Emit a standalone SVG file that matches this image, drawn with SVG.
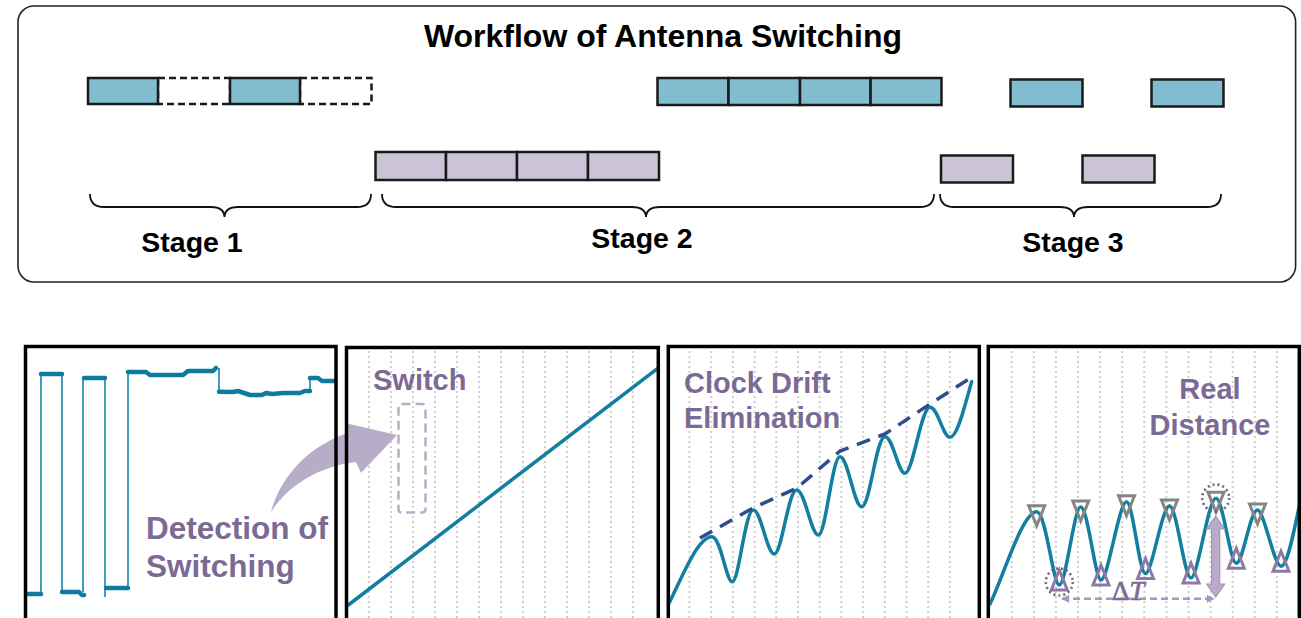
<svg xmlns="http://www.w3.org/2000/svg" width="1301" height="618" viewBox="0 0 1301 618">
<style>
.t{font-family:"Liberation Sans",Arial,sans-serif;font-weight:bold}
.title{font-size:32px;fill:#000}
.stage{font-size:28.5px;fill:#000}
.pl{fill:#7B6A94}
.bx{stroke:#1a1a1a;stroke-width:2.5}
.blue{fill:#82BCCF}
.purp{fill:#CCC4D6}
.dash{fill:#fff;stroke:#1a1a1a;stroke-width:2.5;stroke-dasharray:7,4}
.brace{fill:none;stroke:#111;stroke-width:1.8}
.grid{stroke:#CFCFCF;stroke-width:2;stroke-dasharray:2,3}
.frame{fill:none;stroke:#000;stroke-width:3.5}
.teal{fill:none;stroke:#137FA0;stroke-width:3.5;stroke-linejoin:round;stroke-linecap:round}
.thin{fill:none;stroke:#2E93B4;stroke-width:1.8}
.thick{fill:none;stroke:#0E7B9C;stroke-width:4.5;stroke-linejoin:round;stroke-linecap:round}
.dn{fill:none;stroke:#858585;stroke-width:3;stroke-linejoin:miter}
.up{fill:none;stroke:#8A7AA5;stroke-width:3;stroke-linejoin:miter}
.dotc{fill:none;stroke:#6F6580;stroke-width:2.6;stroke-dasharray:2,3}
</style>
<defs>
<path id="tdn" d="M-8,-6 L8,-6 L0,14 Z"/>
<path id="tup" d="M-8,5 L8,5 L0,-15 Z"/>
<marker id="ah" viewBox="0 0 10 10" refX="9" refY="5" markerWidth="10" markerHeight="8" markerUnits="userSpaceOnUse" orient="auto-start-reverse">
<path d="M0,0 L10,5 L0,10 Z" fill="#A698BC"/>
</marker>
</defs>
<rect width="1301" height="618" fill="#fff"/>

<g id="workflow">
<rect x="18" y="6" width="1277.6" height="276" rx="16" fill="#fff" stroke="#222" stroke-width="1.6"/>
<text class="t title" x="663" y="47" text-anchor="middle">Workflow of Antenna Switching</text>
</g>

<g id="stage1-blocks">
<rect class="dash" x="158" y="78" width="72" height="26"/>
<rect class="dash" x="300" y="78" width="71.5" height="26"/>
<rect class="bx blue" x="88" y="78" width="70" height="26"/>
<rect class="bx blue" x="230" y="78" width="70" height="26"/>
</g>
<g id="stage2-blocks">
<rect class="bx blue" x="657.5" y="78" width="71" height="27"/>
<rect class="bx blue" x="728.5" y="78" width="71.5" height="27"/>
<rect class="bx blue" x="800" y="78" width="70.6" height="27"/>
<rect class="bx blue" x="870.6" y="78" width="70.9" height="27"/>
<rect class="bx purp" x="375.5" y="152" width="70.5" height="28"/>
<rect class="bx purp" x="446" y="152" width="71" height="28"/>
<rect class="bx purp" x="517" y="152" width="71" height="28"/>
<rect class="bx purp" x="588" y="152" width="71" height="28"/>
</g>
<g id="stage3-blocks">
<rect class="bx blue" x="1010.5" y="79.5" width="72" height="27"/>
<rect class="bx blue" x="1151.5" y="79.5" width="72" height="27"/>
<rect class="bx purp" x="941" y="155.5" width="72" height="27"/>
<rect class="bx purp" x="1082.5" y="155.5" width="72" height="27"/>
</g>
<g id="stage-labels">
<path class="brace" d="M90,194 Q90,207 104,207 L211,207 Q224,207 224.5,217 Q225,207 238,207 L357,207 Q371,207 371,194"/>
<path class="brace" d="M382,194 Q382,207 396,207 L632,207 Q645.5,207 646,217 Q646.5,207 660,207 L920,207 Q934,207 934,194"/>
<path class="brace" d="M940,194 Q940,207 954,207 L1060,207 Q1073.5,207 1074,217 Q1074.5,207 1088,207 L1207,207 Q1221,207 1221,194"/>
<text class="t stage" x="192" y="252" text-anchor="middle">Stage 1</text>
<text class="t stage" x="642" y="248" text-anchor="middle">Stage 2</text>
<text class="t stage" x="1073" y="252" text-anchor="middle">Stage 3</text>
</g>

<g id="panel-detection">
<path class="thin" d="M41,594 L41,374 M62,374 L62,592 M83,592 L83,378 M105,378 L105,597 M128,588 L128,372 M219,368 L219,392 M310,391 L310,378"/>
<path class="thick" d="M27,594 L41,594"/>
<path class="thick" d="M41,374 L62,374"/>
<path class="thick" d="M62,592 L79,592 L82,595 L84,595"/>
<path class="thick" d="M84,378 L105,378"/>
<path class="thick" d="M106,588 L128,588"/>
<path class="thick" d="M128,372 L146,372 L150,375 L183,375 L188,371 L213,371 L216,368"/>
<path class="thick" d="M219,391.7 L233,392 L238,391 L244,393 L250,395 L262,395 L266,393 L272,394 L283,393 L300,393 L305,391 L310,391"/>
<path class="thick" d="M310,378 L318,378 L322,381 L335,381"/>
<text class="t pl" x="146" y="539" font-size="31.5">Detection of</text>
<text class="t pl" x="146" y="577" font-size="31.5">Switching</text>
</g>

<g id="panel-switch">
<g class="grid">
<path d="M369,351V618M391,351V618M413,351V618M435,351V618M457,351V618M479,351V618M501,351V618M523,351V618M545,351V618M567,351V618M589,351V618M611,351V618M633,351V618"/>
</g>
<text class="t pl" x="373" y="390" font-size="29">Switch</text>
<rect x="398.5" y="404" width="27" height="108.5" rx="3" fill="none" stroke="#B8ADC9" stroke-width="2.5" stroke-dasharray="9,5"/>
<path class="teal" d="M348.3,605 L657.7,368.3" stroke-width="3"/>
</g>

<g id="panel-drift">
<g class="grid">
<path d="M689.5,351V618M711.2,351V618M732.9,351V618M754.6,351V618M776.3,351V618M798,351V618M819.7,351V618M841.4,351V618M863.1,351V618M884.8,351V618M906.5,351V618M928.2,351V618M949.9,351V618"/>
</g>
<text class="t pl" x="684" y="393" font-size="29">Clock Drift</text>
<text class="t pl" x="684" y="428" font-size="29">Elimination</text>
<path class="teal" d="M669,603.3 C683,575 698,537 711.7,536.7 C721,536.5 726,581.7 732.3,581.7 C739,581.7 745,510 753.3,510 C761,510 767,554 774.3,554 C782,554 788,490 796.7,490 C805,490 811,535 818.3,535 C826,535 832,456.7 840,456.7 C848,456.7 854,506.7 861.7,506.7 C870,506.7 876,436.7 885,436.7 C893,436.7 898,473.3 905,473.3 C913,473.3 921,407.3 930,407.3 C938,407.3 943,437.3 950,437.3 C958,437.3 966,400 971.7,381.7"/>
<polyline points="700,538 753,508 797,488 840,451 885,434 930,404 972,377" fill="none" stroke="#2F4C8C" stroke-width="3.5" stroke-dasharray="14,9"/>
</g>

<g id="panel-distance">
<g class="grid">
<path d="M1011.7,351V618M1033.8,351V618M1055.9,351V618M1078,351V618M1100.1,351V618M1122.2,351V618M1144.3,351V618M1166.4,351V618M1188.5,351V618M1210.6,351V618M1232.7,351V618M1254.8,351V618M1276.9,351V618"/>
</g>
<text class="t pl" x="1210" y="399" font-size="29" text-anchor="middle">Real</text>
<text class="t pl" x="1210" y="435" font-size="29" text-anchor="middle">Distance</text>
<path class="teal" d="M990,604 C1003,578 1022,512 1036.7,511.7 C1046,511.7 1053,585 1059.3,585 C1066,585 1074,507 1080.7,507 C1088,507 1095,580 1101,580 C1108,580 1119,501.7 1126.5,501.7 C1133,501.7 1139,573.5 1145.5,573.5 C1152,573.5 1162,506 1169.5,506 C1177,506 1184,578 1191,578 C1198,578 1208,498.3 1216,498.3 C1223,498.3 1230,563.3 1236.3,563.3 C1243,563.3 1250,510 1257.5,510 C1264,510 1274,566.3 1281,566.3 C1288,566.3 1295,525 1301,498"/>
<g class="dn">
<use href="#tdn" x="1036.7" y="511.7"/>
<use href="#tdn" x="1080.7" y="507"/>
<use href="#tdn" x="1126.5" y="501.7"/>
<use href="#tdn" x="1169.5" y="506"/>
<use href="#tdn" x="1216" y="498.3"/>
<use href="#tdn" x="1257.5" y="510"/>
</g>
<g class="up">
<use href="#tup" x="1059.3" y="585"/>
<use href="#tup" x="1101" y="580"/>
<use href="#tup" x="1145.5" y="573.5"/>
<use href="#tup" x="1191" y="578"/>
<use href="#tup" x="1236.3" y="563.3"/>
<use href="#tup" x="1281" y="566.3"/>
</g>
<circle class="dotc" cx="1059.3" cy="582" r="13.5"/>
<circle class="dotc" cx="1215.7" cy="498" r="13.5"/>
</g>

<g id="connectors">
<path d="M271,512 C278,485 300,450 347,433 L345,423 L397,435 L361,473 L356,462 C320,466 288,485 271,512 Z" fill="#B8ADC9"/>
<path d="M1215.7,516 L1224.7,529 L1219.7,529 L1219.7,584 L1224.7,584 L1215.7,597 L1206.7,584 L1211.7,584 L1211.7,529 L1206.7,529 Z" fill="#B9ACCB" stroke="#A395B9" stroke-width="1.2"/>
<line x1="1062" y1="598.8" x2="1214" y2="598.8" stroke="#A698BC" stroke-width="2.5" stroke-dasharray="7,4" marker-start="url(#ah)" marker-end="url(#ah)"/>
<text x="1112" y="600" font-family="'Liberation Serif','Times New Roman',serif" font-size="27" fill="#7B6A94" stroke="#7B6A94" stroke-width="0.7">Δ<tspan font-style="italic">T</tspan></text>
</g>

<g id="frames">
<rect class="frame" x="25.5" y="346.5" width="310.5" height="290"/>
<rect class="frame" x="346.5" y="347.5" width="311.8" height="290"/>
<rect class="frame" x="668.3" y="346.5" width="311" height="290"/>
<rect class="frame" x="988.3" y="346.5" width="311" height="290"/>
</g>
</svg>
